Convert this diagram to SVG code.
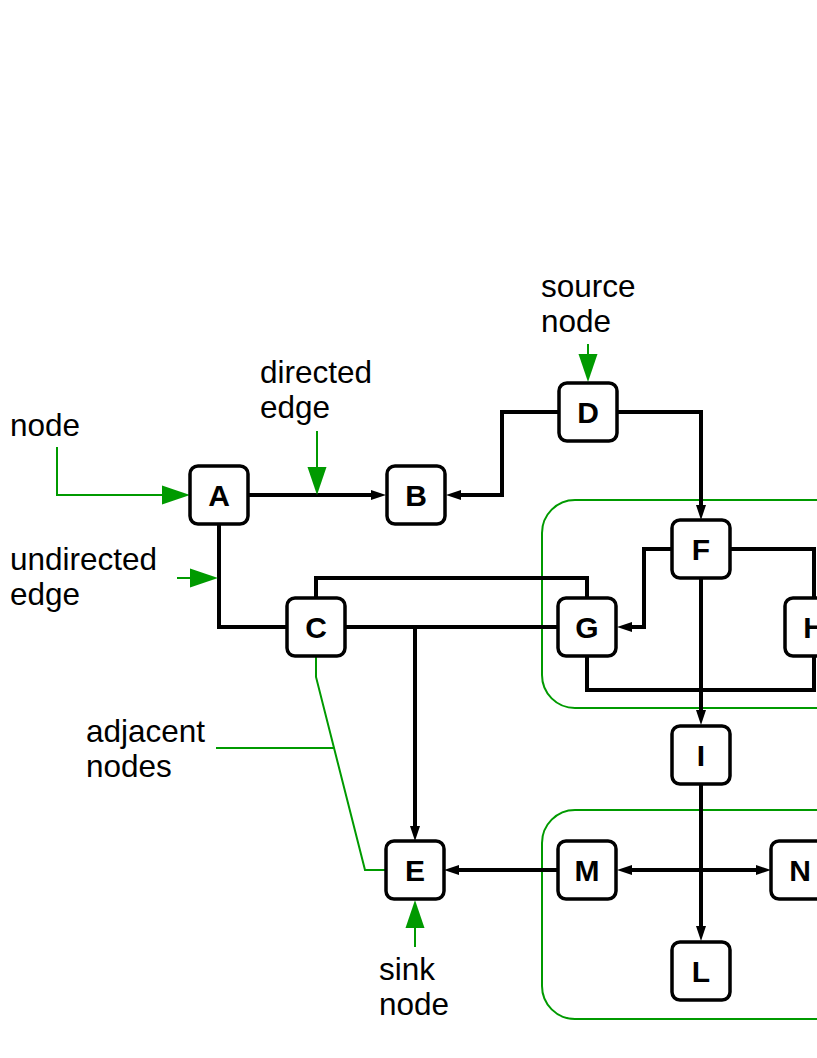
<svg xmlns="http://www.w3.org/2000/svg" width="817" height="1058" viewBox="0 0 817 1058">
<defs>
<marker id="ab" markerUnits="userSpaceOnUse" markerWidth="16" markerHeight="11" refX="5" refY="5" orient="auto-start-reverse" viewBox="0 0 16 10">
<path d="M0,0 L15,5 L0,10 z" fill="#000"/>
</marker>
<marker id="ag" markerUnits="userSpaceOnUse" markerWidth="29" markerHeight="20" refX="4" refY="9.5" orient="auto" viewBox="0 0 29 19">
<path d="M0,0 L28,9.5 L0,19 z" fill="#009a00"/>
</marker>
<style>
.grp{fill:none;stroke:#009a00;stroke-width:2}
.e{fill:none;stroke:#000;stroke-width:4;stroke-linejoin:miter}
.ea{fill:none;stroke:#000;stroke-width:4;marker-end:url(#ab)}
.g{fill:none;stroke:#009a00;stroke-width:2}
.ga{fill:none;stroke:#009a00;stroke-width:2;marker-end:url(#ag)}
.n rect{fill:#fff;stroke:#000;stroke-width:3.5}
.n text{font-family:"Liberation Sans",Arial,sans-serif;font-weight:bold;font-size:30px;text-anchor:middle;fill:#000}
.lbl{font-family:"Liberation Sans",Arial,sans-serif;font-size:31.5px;fill:#000}
</style>
</defs>
<rect width="817" height="1058" fill="#fff"/>
<g id="groups">
<rect class="grp" x="542" y="500" width="420" height="208" rx="33"/>
<rect class="grp" x="542" y="810" width="420" height="209" rx="33"/>
</g>
<g id="connectors">
<path class="ea" d="M249,495 H376"/>
<path class="ea" d="M559,412 H502 V495 H456"/>
<path class="ea" d="M618,412 H701 V510"/>
<path class="e" d="M219,524 V627 H287"/>
<path class="e" d="M316,598 V578 H587 V598"/>
<path class="e" d="M346,627 H557"/>
<path class="ea" d="M415,627 V831"/>
<path class="ea" d="M672,549 H644 V627 H627"/>
<path class="e" d="M731,549 H814 V598"/>
<path class="e" d="M587,656 V690 H814 V656"/>
<path class="ea" d="M701,579 V715"/>
<path class="ea" d="M701,784 V931"/>
<path class="ea" d="M558,870 H454"/>
<path class="ea" d="M627,870 H761" style="marker-start:url(#ab)"/>
</g>
<g id="annotations">
<path class="ga" d="M57,447 V495 H166"/>
<path class="ga" d="M317,431 V471"/>
<path class="ga" d="M177,578 H194"/>
<path class="ga" d="M588,344 V358"/>
<path class="ga" d="M415,947 V924"/>
<path class="g" d="M216,748 H334"/>
<path class="g" d="M316,657 V677 L365,870 H386"/>
<text class="lbl" x="10" y="436">node</text>
<text class="lbl" x="260" y="383">directed</text>
<text class="lbl" x="260" y="418">edge</text>
<text class="lbl" x="10" y="570">undirected</text>
<text class="lbl" x="10" y="605">edge</text>
<text class="lbl" x="541" y="297">source</text>
<text class="lbl" x="541" y="332">node</text>
<text class="lbl" x="86" y="742">adjacent</text>
<text class="lbl" x="86" y="777">nodes</text>
<text class="lbl" x="379" y="980">sink</text>
<text class="lbl" x="379" y="1015">node</text>
</g>
<g id="node-A" class="n"><rect x="190" y="466" width="58" height="58" rx="8"/><text x="219" y="506">A</text></g>
<g id="node-B" class="n"><rect x="387" y="466" width="58" height="58" rx="8"/><text x="416" y="506">B</text></g>
<g id="node-C" class="n"><rect x="287" y="598" width="58" height="58" rx="8"/><text x="316" y="638">C</text></g>
<g id="node-D" class="n"><rect x="559" y="383" width="58" height="58" rx="8"/><text x="588" y="423">D</text></g>
<g id="node-E" class="n"><rect x="386" y="841" width="58" height="58" rx="8"/><text x="415" y="881">E</text></g>
<g id="node-F" class="n"><rect x="672" y="520" width="58" height="58" rx="8"/><text x="701" y="560">F</text></g>
<g id="node-G" class="n"><rect x="558" y="598" width="58" height="58" rx="8"/><text x="587" y="638">G</text></g>
<g id="node-H" class="n"><rect x="785" y="598" width="58" height="58" rx="8"/><text x="814" y="638">H</text></g>
<g id="node-I" class="n"><rect x="672" y="726" width="58" height="58" rx="8"/><text x="701" y="766">I</text></g>
<g id="node-M" class="n"><rect x="558" y="841" width="58" height="58" rx="8"/><text x="587" y="881">M</text></g>
<g id="node-N" class="n"><rect x="771" y="841" width="58" height="58" rx="8"/><text x="800" y="881">N</text></g>
<g id="node-L" class="n"><rect x="672" y="942" width="58" height="58" rx="8"/><text x="701" y="982">L</text></g>
</svg>
